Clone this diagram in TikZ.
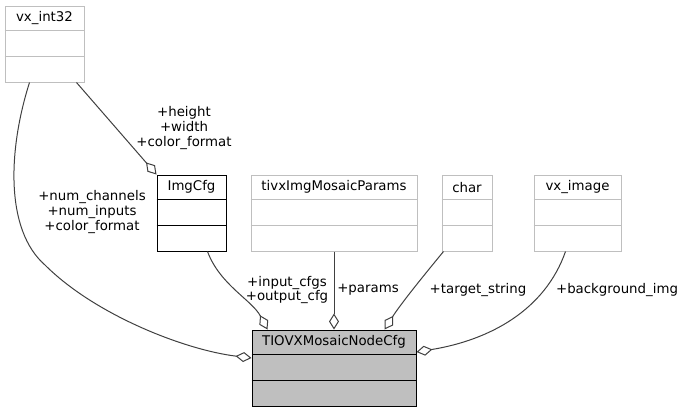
\documentclass[tikz,border=0pt]{standalone}
\usepackage{fontspec}
\setmainfont{DejaVu Sans}
\usetikzlibrary{arrows.meta,calc}
\definecolor{boxgray}{HTML}{BFBFBF}
\definecolor{edgegray}{HTML}{404040}
\newcommand\umlbox[7]{%
  \node[cls,draw=#6,fill=#7,minimum width=#4] (#1) at (#2,#3) {};
  \node[ttl] (#1-t) at ($(#1.north)+(0,12.6)$) {#5};
  \draw[draw=#6,line width=0.75pt] ($(#1.north west)+(0,25.3)$) -- ($(#1.north east)+(0,25.3)$);
  \draw[draw=#6,line width=0.75pt] ($(#1.north west)+(0,50.6)$) -- ($(#1.north east)+(0,50.6)$);
}
\begin{document}
\begin{tikzpicture}[x=0.75pt,y=-0.75pt,
  cls/.style={rectangle,line width=0.75pt,minimum height=57pt,inner sep=0pt},
  ttl/.style={inner sep=0pt,font=\fontsize{10}{12}\selectfont},
  lbl/.style={inner sep=0pt,align=center,font=\fontsize{10}{10.9}\selectfont},
  agg/.style={draw=edgegray,line width=0.75pt,-{Diamond[open,length=12pt,width=7.5pt,fill=white]}}
]
\useasboundingbox (0,0) rectangle (682,412);

\umlbox{int}{44.5}{44}{59.25pt}{vx\_int32}{boxgray}{white}
\umlbox{img}{191.5}{213}{51.75pt}{ImgCfg}{black}{white}
\umlbox{par}{334}{213}{124.5pt}{tivxImgMosaicParams}{boxgray}{white}
\umlbox{chr}{467}{213}{37.5pt}{char}{boxgray}{white}
\umlbox{vim}{577.5}{213}{65.25pt}{vx\_image}{boxgray}{white}
\umlbox{main}{334}{368}{123pt}{TIOVXMosaicNodeCfg}{black}{boxgray}

% vx_int32 -> main
\draw[agg] ($(int.south west)+(25,0)$) .. controls (8,150) and (5,230) .. (45,265)
  .. controls (95,315) and (185,350) .. ($(main.west)+(0,-10)$);
% vx_int32 -> ImgCfg
\draw[agg] ($(int.south west)+(72,0)$) -- (img.north west);
% ImgCfg -> main
\draw[agg] ($(img.south west)+(51,0)$) .. controls (220,285) and (252,300) .. ($(main.north west)+(16,0)$);
% params -> main
\draw[agg] (par.south) -- (main.north);
% char -> main
\draw[agg] ($(chr.south west)+(2,0)$) .. controls (420,280) and (400,305) .. ($(main.north west)+(133,0)$);
% vx_image -> main
\draw[agg] ($(vim.south west)+(32,0)$) .. controls (545,310) and (490,340) .. ($(main.east)+(0,-16)$);

\node[lbl] (l1) at (92,212) {+num\_channels\\+num\_inputs\\+color\_format};
\node[lbl] (l2) at (184,128) {+height\\+width\\+color\_format};
\node[lbl] (l3) at (287,290) {+input\_cfgs\\+output\_cfg};
\node[lbl] (l4) at (368,290) {+params};
\node[lbl] (l5) at (478,290) {+target\_string};
\node[lbl] (l6) at (617,290) {+background\_img};
\end{tikzpicture}
\end{document}
